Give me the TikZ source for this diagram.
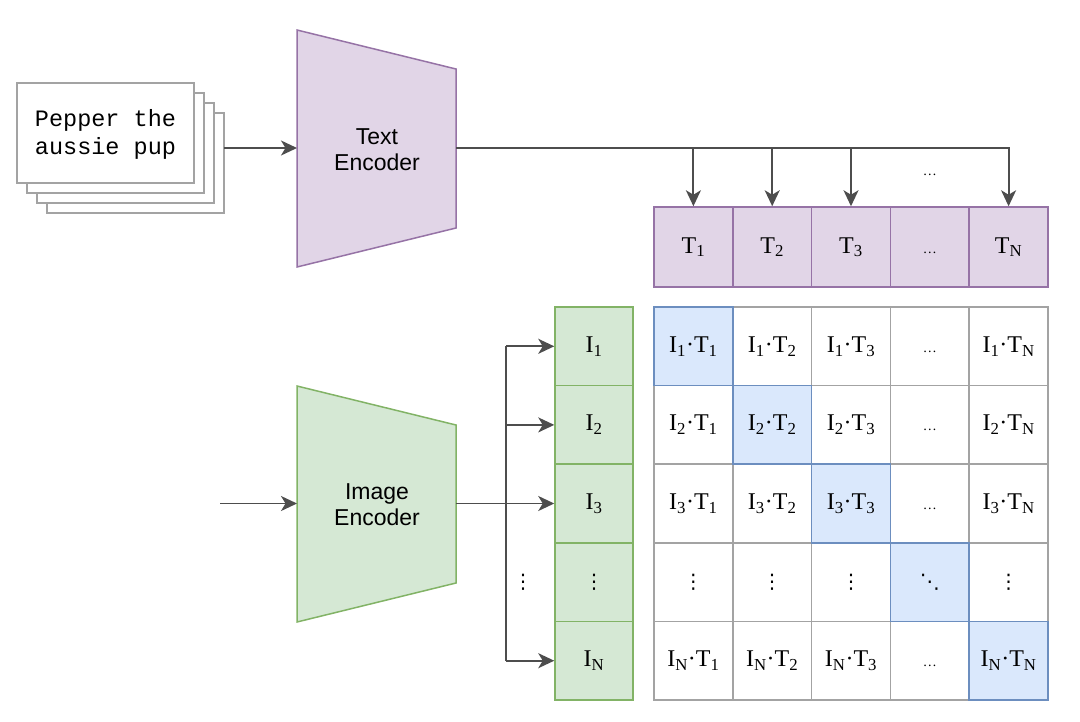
\documentclass[tikz,border=0pt]{standalone}
\usepackage{fontspec}
\setmainfont{Liberation Serif}
\newfontfamily\sansf{Liberation Sans}
\newfontfamily\monof{Liberation Mono}
\newfontfamily\dejav{DejaVu Sans}
\usetikzlibrary{arrows.meta}
\definecolor{purL}{HTML}{E1D5E7}
\definecolor{purD}{HTML}{9673A6}
\definecolor{grnL}{HTML}{D5E8D4}
\definecolor{grnD}{HTML}{82B366}
\definecolor{bluL}{HTML}{DAE8FC}
\definecolor{bluD}{HTML}{6C8EBF}
\definecolor{gridC}{HTML}{A3A3A3}
\definecolor{lineC}{HTML}{4D4D4D}
\newcommand\IT[2]{I\textsubscript{#1}\textperiodcentered T\textsubscript{#2}}
\begin{document}
\begin{tikzpicture}[x=1pt,y=-1pt,
  conn/.style={draw=lineC, line width=1.9pt},
  arr/.style={conn, -{Stealth[length=16pt,width=15pt,inset=4.5pt]}},
  base/.style={rectangle, line width=1.5pt, inner sep=0pt, text height=15pt, text depth=3pt,
    font=\fontsize{24}{28}\selectfont},
  cell/.style={base, draw=gridC, fill=white, minimum width=78.8pt, minimum height=78.6pt},
  diag/.style={base, draw=bluD, fill=bluL, minimum width=78.8pt, minimum height=78.6pt},
  tcell/.style={base, draw=purD, fill=purL, minimum width=78.8pt, minimum height=80pt},
  icell/.style={base, draw=grnD, fill=grnL, minimum width=78pt, minimum height=78.6pt},
  vd/.style={font=\dejav\fontsize{20}{20}\selectfont},
  ell/.style={font=\fontsize{14}{16}\selectfont},
  paper/.style={draw=gridC, fill=white, line width=1.6pt},
  enc/.style={align=center, font=\sansf\fontsize{23}{26}\selectfont}]
\useasboundingbox (0,0) rectangle (1080,721);

% stacked text inputs
\draw[paper] (47,113) rectangle (224,213);
\draw[paper] (37,103) rectangle (214,203);
\draw[paper] (27,93) rectangle (204,193);
\draw[paper] (17,83) rectangle (194,183);
\node[align=center, font=\monof\fontsize{23.5}{28}\selectfont] (txt) at (105.5,134) {Pepper the\\aussie pup};
\coordinate (stackR) at (224,148);

% text encoder
\draw[draw=purD, fill=purL, line width=1.5pt] (297,30) -- (456,69) -- (456,228) -- (297,267) -- cycle;
\node[enc] (te) at (377,150) {Text\\Encoder};
\coordinate (teL) at (297,148);
\coordinate (teR) at (456,148);

% image encoder
\draw[draw=grnD, fill=grnL, line width=1.5pt] (297,386) -- (456,425) -- (456,583) -- (297,622) -- cycle;
\node[enc] (ie) at (377,505) {Image\\Encoder};
\coordinate (ieL) at (297,503.5);
\coordinate (ieR) at (456,503.5);
\coordinate (imgIn) at (220,503.5);

% text embeddings
\foreach \c/\tl in {1/1,2/2,3/3,5/N}
  \node[tcell] (t\c) at ({654+78.8*(\c-0.5)},247) {T\textsubscript{\tl}};
\node[tcell, ell] (t4) at ({654+78.8*3.5},247) {…};
\node[ell, text height=15pt, text depth=3pt, inner sep=0pt] (tdots) at (929.8,169) {…};

% image embeddings
\foreach \r/\il in {1/1,2/2,3/3,5/N}
  \node[icell] (i\r) at (594,{307+78.6*(\r-0.5)}) {I\textsubscript{\il}};
\node[icell, vd] (i4) at (594,{307+78.6*3.5}) {⋮};
\node[base, vd] (ldots) at (523,{307+78.6*3.5}) {⋮};

% similarity matrix
\foreach \r/\il in {1/1,2/2,3/3,5/N}{
  \foreach \c/\tl in {1/1,2/2,3/3,5/N}{
    \ifnum\r=\c\else
      \node[cell] (m\r\c) at ({654+78.8*(\c-0.5)},{307+78.6*(\r-0.5)}) {\IT{\il}{\tl}};
    \fi}}
\foreach \c in {1,2,3,5}
  \node[cell, vd] (m4\c) at ({654+78.8*(\c-0.5)},{307+78.6*3.5}) {⋮};
\foreach \r in {1,2,3,5}
  \node[cell, ell] (m\r4) at ({654+78.8*3.5},{307+78.6*(\r-0.5)}) {…};
\foreach \r/\il in {1/1,2/2,3/3,5/N}
  \node[diag] (m\r\r) at ({654+78.8*(\r-0.5)},{307+78.6*(\r-0.5)}) {\IT{\il}{\il}};
\node[diag, vd] (m44) at ({654+78.8*3.5},{307+78.6*3.5}) {⋱};

% connectors: text side
\draw[arr] (stackR) -- (teL);
\draw[arr] (teR) -| (t5.north);
\foreach \c in {1,2,3}
  \draw[arr] (t\c.north |- teR) -- (t\c.north);

% connectors: image side
\draw[arr] (imgIn) -- (ieL);
\draw[arr] (ieR) -- (i3.west);
\coordinate (busT) at (506,{307+78.6*0.5});
\coordinate (busB) at (506,{307+78.6*4.5});
\draw[conn] (busT) -- (busB);
\draw[arr] (busT) -- (i1.west);
\draw[arr] (busT |- i2.west) -- (i2.west);
\draw[arr] (busB) -- (i5.west);
\end{tikzpicture}
\end{document}
